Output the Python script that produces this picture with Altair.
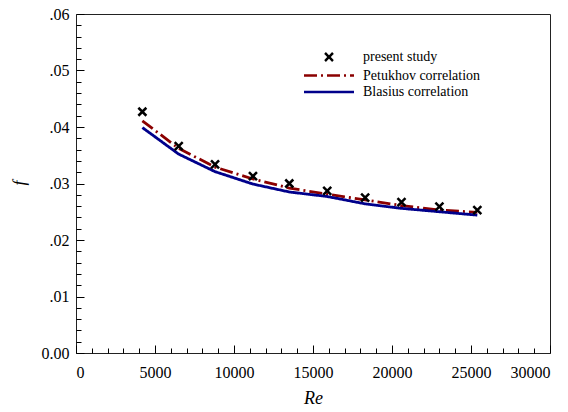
import altair as alt
import pandas as pd

# ---- data ----
re_vals = [4200, 6500, 8800, 11200, 13500, 15900, 18300, 20600, 23000, 25400]
present_f = [0.0427, 0.0366, 0.0334, 0.0313, 0.0300, 0.0287, 0.0275, 0.0267, 0.0259, 0.0253]
petukhov_f = [0.0411, 0.0362, 0.0329, 0.0308, 0.0292, 0.0281, 0.0271, 0.0261, 0.0253, 0.0249]
blasius_f = [0.0399, 0.0352, 0.0321, 0.0299, 0.0285, 0.0277, 0.0264, 0.0256, 0.0250, 0.0244]

series_names = ["present study", "Petukhov correlation", "Blasius correlation"]
series_colors = ["#000000", "#8b0000", "#00008b"]
y_title = ["f"]

x_major = [0, 5000, 10000, 15000, 20000, 25000, 30000]
x_minor = [v for v in range(0, 30001, 1000) if v not in x_major]
y_major = [0.0, 0.01, 0.02, 0.03, 0.04, 0.05, 0.06]
y_minor = [round(i * 0.002, 3) for i in range(31) if i % 5 != 0]

rows = []
for name, vals in zip(series_names, [present_f, petukhov_f, blasius_f]):
    for r, f in zip(re_vals, vals):
        rows.append({"Re": r, "f": f, "series": name})
df = pd.DataFrame(rows)

FONT = "Liberation Serif"
XPATH = "M-0.8,-0.8L0.8,0.8M0.8,-0.8L-0.8,0.8"
LPATH = "M-5,0L5,0"

xscale = alt.Scale(domain=[0, 30000], nice=False)
yscale = alt.Scale(domain=[0, 0.06], nice=False)

color = alt.Color(
    "series:N",
    scale=alt.Scale(domain=series_names, range=series_colors),
    legend=alt.Legend(
        title=None, orient="none", legendX=246, legendY=36,
        labelFont=FONT, labelFontSize=14, labelColor="black",
        symbolSize=100, symbolStrokeWidth=2.5, labelOffset=27,
        rowPadding=2.5, symbolFillColor="transparent",
    ),
)

x_major_axis = alt.Axis(
    values=x_major, format="d", orient="bottom", offset=-8, tickSize=8,
    tickColor="black", tickWidth=1, domain=False, grid=False,
    labelFont=FONT, labelFontSize=16, labelColor="black", labelPadding=11,
    title="Re", titleFont=FONT, titleFontSize=18, titleFontStyle="italic",
    titleFontWeight="normal", titleColor="black", titlePadding=9,
)
y_major_axis = alt.Axis(
    values=y_major, orient="left", offset=-8, tickSize=8,
    tickColor="black", tickWidth=1, domain=False, grid=False,
    labelExpr="datum.value == 0 ? '0.00' : replace(format(datum.value, '.2f'), '0.', '.')",
    labelFont=FONT, labelFontSize=16, labelColor="black", labelPadding=7,
    title=None,
)
x_minor_axis = alt.Axis(
    values=x_minor, orient="bottom", offset=-5, tickSize=5, tickColor="black",
    tickWidth=1, domain=False, grid=False, labels=False, title=None,
)
y_minor_axis = alt.Axis(
    values=y_minor, orient="left", offset=-5, tickSize=5, tickColor="black",
    tickWidth=1, domain=False, grid=False, labels=False, title=None,
)

points = alt.Chart(df).transform_filter(
    alt.datum.series == "present study"
).mark_point(size=100, strokeWidth=2.5, filled=False, opacity=1).encode(
    x=alt.X("Re:Q", scale=xscale, axis=x_major_axis),
    y=alt.Y("f:Q", scale=yscale, axis=y_major_axis),
    color=color,
    shape=alt.Shape("series:N", scale=alt.Scale(domain=series_names, range=[XPATH, LPATH, LPATH]), legend=None),
)

lines = alt.Chart(df).transform_filter(
    alt.datum.series != "present study"
).mark_line(strokeWidth=2.8).encode(
    x=alt.X("Re:Q", scale=xscale, axis=x_minor_axis),
    y=alt.Y("f:Q", scale=yscale, axis=y_minor_axis),
    color=color,
    strokeDash=alt.StrokeDash(
        "series:N",
        scale=alt.Scale(domain=series_names, range=[[1, 0], [13, 4, 2, 4], [1, 0]]),
        legend=None,
    ),
    order="Re:Q",
)

ytitle = alt.Chart(pd.DataFrame({"t": y_title})).mark_text(
    angle=269, font=FONT, fontSize=18, fontStyle="italic", color="black",
    align="center", baseline="middle",
).encode(text="t:N", x=alt.value(-56), y=alt.value(169))

chart = alt.layer(lines, points, ytitle).resolve_axis(x="independent", y="independent").properties(
    width=474, height=339,
    autosize=alt.AutoSizeParams(type="none"),
    padding={"left": 76, "top": 14, "right": 18, "bottom": 59},
).configure(background="white", font=FONT).configure_view(
    stroke="#222222", strokeWidth=1
).configure_axis(labelFont=FONT, titleFont=FONT).configure_legend(labelFont=FONT)

chart.save("out.html", embed_options={"renderer": "svg", "actions": False})
